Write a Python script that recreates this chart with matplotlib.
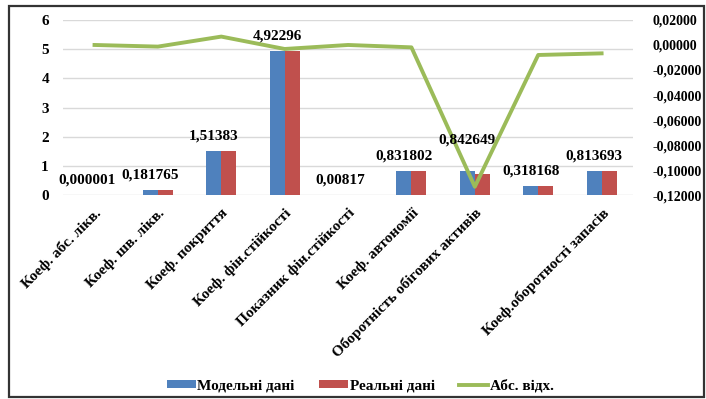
import numpy as np
import matplotlib.pyplot as plt
from matplotlib.patches import Rectangle
from matplotlib.ticker import FuncFormatter

# Дані з діаграми
categories = ['Коеф. абс. лікв.', 'Коеф. шв. лікв.', 'Коеф. покриття',
              'Коеф. фін.стійкості', 'Показник фін.стійкості', 'Коеф. автономії',
              'Оборотність обігових активів', '', 'Коеф.оборотності запасів']
model = [0.000001, 0.181765, 1.51383, 4.92296, 0.00817, 0.831802, 0.842649, 0.318168, 0.813693]
real = [0.000001, 0.181765, 1.51383, 4.92296, 0.00817, 0.831802, 0.7293, 0.318168, 0.813693]
abs_dev = [0.0000, -0.0013, 0.0067, -0.0032, 0.0000, -0.0019, -0.1133, -0.0080, -0.0067]
label_texts = ['0,000001', '0,181765', '1,51383', '4,92296', '0,00817',
               '0,831802', '0,842649', '0,318168', '0,813693']

plt.rcParams['font.family'] = ['Liberation Serif', 'DejaVu Serif']
plt.rcParams['font.weight'] = 'bold'

fig = plt.figure(figsize=(7.06, 3.99), dpi=100)
ax = fig.add_axes([0.089, 0.511, 0.808, 0.439])
ax2 = ax.twinx()

x = np.arange(len(categories))
w = 0.237
ax.bar(x - w / 2, model, w, color='#4F81BD', label='Модельні дані', zorder=2)
ax.bar(x + w / 2, real, w, color='#C0504D', label='Реальні дані', zorder=2)
ax2.plot(x, abs_dev, color='#9BBB59', lw=2.8, label='Абс. відх.', zorder=3)

ax.set_xlim(-0.5, len(categories) - 0.5)
ax.set_ylim(0, 6)
ax.set_yticks(range(7))
ax2.set_ylim(-0.12, 0.02)
ax2.set_yticks(np.arange(-0.12, 0.021, 0.02))
ax2.yaxis.set_major_formatter(FuncFormatter(lambda v, p: f"{round(v, 5) + 0:.5f}".replace('.', ',')))

ax.grid(axis='y', color='#D9D9D9', lw=1, zorder=0)
for a in (ax, ax2):
    for s in a.spines.values():
        s.set_visible(False)
    a.tick_params(length=0, labelsize=11)
ax.tick_params(axis='y', pad=10)
ax2.tick_params(axis='y', pad=14, labelsize=10)

ax.set_xticks(x)
ax.set_xticklabels(categories, rotation=45, ha='right', rotation_mode='anchor', fontsize=11)
ax.tick_params(axis='x', pad=8)

for lbl in ax.get_xticklabels() + ax.get_yticklabels() + ax2.get_yticklabels():
    lbl.set_fontweight('bold')

# підписи значень над синіми стовпцями
offsets = [11, 11, 11, 11, 11, 11, 22, 11, 11]
for i in range(len(model)):
    ax2.annotate(label_texts[i], xy=(x[i] - w / 2, model[i]), xycoords=ax.transData,
                 xytext=(0, offsets[i]), textcoords='offset points',
                 ha='center', va='center', fontsize=11, fontweight='bold', zorder=5)

h1, l1 = ax.get_legend_handles_labels()
h2, l2 = ax2.get_legend_handles_labels()
fig.legend(h1 + h2, l1 + l2, loc='center', bbox_to_anchor=(0.51, 0.033), ncol=3,
           frameon=False, prop={'size': 11, 'weight': 'bold'}, handlelength=1.9,
           handleheight=0.45, handletextpad=0.1, columnspacing=1.6)

fig.patches.append(Rectangle((9 / 706, 2 / 399), 695 / 706, 391 / 399, transform=fig.transFigure,
                             fill=False, edgecolor='#333333', lw=1.6))

fig.savefig('out.png', dpi=100)
